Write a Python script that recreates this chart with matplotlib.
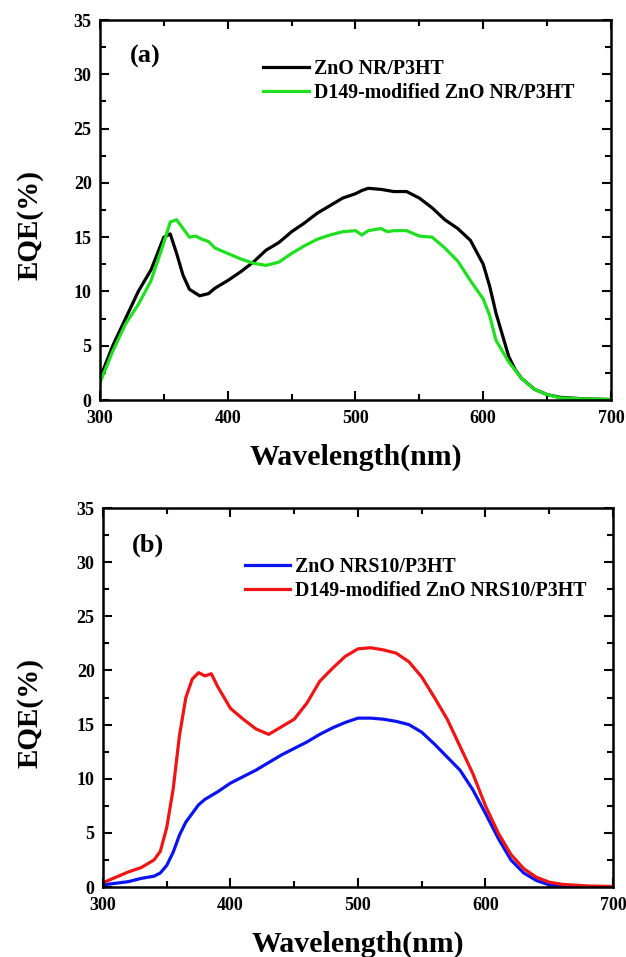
import numpy as np
import matplotlib
matplotlib.use("Agg")
import matplotlib.pyplot as plt
from matplotlib.ticker import MultipleLocator

plt.rcParams['font.family'] = ['Liberation Serif', 'DejaVu Serif']
plt.rcParams['font.weight'] = 'bold'

# panel (a)
wl_a = [300, 310, 320, 330, 340, 350, 355, 360, 365, 370, 378, 385, 390, 400, 410, 420, 430,
        440, 450, 460, 470, 480, 490, 500, 505, 510, 520, 530, 540, 550, 560, 570, 580, 590,
        600, 605, 610, 615, 620, 625, 630, 640, 650, 660, 680, 700]
eqe_nr = [2.0, 5.0, 7.5, 10.0, 12.0, 15.0, 15.3, 13.5, 11.5, 10.2, 9.6, 9.8, 10.3, 11.0, 11.8,
          12.7, 13.8, 14.5, 15.5, 16.3, 17.2, 17.9, 18.6, 19.0, 19.3, 19.5, 19.4, 19.2, 19.2,
          18.6, 17.7, 16.6, 15.8, 14.7, 12.5, 10.5, 8.0, 6.0, 4.0, 2.8, 2.0, 1.0, 0.5, 0.25,
          0.1, 0.05]
wl_a2 = [300, 310, 320, 330, 340, 350, 355, 360, 365, 370, 375, 380, 385, 390, 400, 410, 420,
         430, 440, 450, 460, 470, 480, 490, 500, 505, 510, 520, 525, 530, 540, 550, 560, 570,
         580, 590, 600, 605, 610, 620, 630, 640, 650, 660, 680, 700]
eqe_nr_d149 = [1.6, 4.5, 7.0, 8.8, 11.0, 14.5, 16.4, 16.6, 15.8, 15.0, 15.1, 14.8, 14.6, 14.0,
               13.5, 13.0, 12.6, 12.4, 12.7, 13.5, 14.2, 14.8, 15.2, 15.5, 15.6, 15.2, 15.6,
               15.8, 15.5, 15.6, 15.6, 15.1, 15.0, 14.0, 12.8, 11.0, 9.3, 7.8, 5.5, 3.5, 2.0,
               1.0, 0.5, 0.2, 0.1, 0.05]

# panel (b)
wl_b = [300, 320, 330, 340, 345, 350, 355, 360, 365, 370, 375, 380, 390, 400, 410, 420, 430,
        440, 450, 460, 470, 480, 490, 500, 510, 520, 530, 540, 550, 560, 570, 580, 590, 600,
        610, 620, 630, 640, 650, 660, 700]
eqe_nrs = [0.2, 0.5, 0.8, 1.0, 1.3, 2.0, 3.2, 4.8, 6.0, 6.8, 7.6, 8.1, 8.8, 9.6, 10.2, 10.8,
           11.5, 12.2, 12.8, 13.4, 14.1, 14.7, 15.2, 15.6, 15.6, 15.5, 15.3, 15.0, 14.3, 13.2,
           12.0, 10.8, 9.0, 6.8, 4.5, 2.5, 1.3, 0.6, 0.2, 0.05, 0.0]
wl_b2 = [300, 310, 320, 330, 340, 345, 350, 355, 360, 365, 370, 375, 380, 385, 390, 400, 410,
         420, 430, 440, 450, 460, 470, 480, 490, 500, 510, 520, 530, 540, 550, 560, 570, 580,
         590, 600, 610, 620, 630, 640, 650, 660, 680, 700]
eqe_nrs_d149 = [0.4, 0.9, 1.4, 1.8, 2.5, 3.3, 5.5, 9.0, 14.0, 17.5, 19.2, 19.8, 19.5, 19.7,
                18.5, 16.5, 15.5, 14.6, 14.1, 14.8, 15.5, 17.0, 19.0, 20.2, 21.3, 22.0, 22.1,
                21.9, 21.6, 20.8, 19.4, 17.5, 15.5, 13.0, 10.5, 7.5, 5.0, 3.0, 1.7, 0.9, 0.45,
                0.25, 0.1, 0.05]

fig = plt.figure(figsize=(6.26, 9.57), dpi=100)
ax1 = fig.add_axes([0.1597, 0.5820, 0.8163, 0.3971])
ax2 = fig.add_axes([0.1645, 0.0731, 0.8147, 0.3960])

panels = [
    (ax1, '(a)', (0.059, 0.903), (0.319, 0.897), -0.137,
     [(wl_a, eqe_nr, 'black', 'ZnO NR/P3HT'),
      (wl_a2, eqe_nr_d149, '#1ee01e', 'D149-modified ZnO NR/P3HT')]),
    (ax2, '(b)', (0.057, 0.902), (0.278, 0.870), -0.143,
     [(wl_b, eqe_nrs, '#0a14f0', 'ZnO NRS10/P3HT'),
      (wl_b2, eqe_nrs_d149, '#f01414', 'D149-modified ZnO NRS10/P3HT')]),
]

for ax, tag, tagpos, legpos, ylx, series in panels:
    for x, y, c, lab in series:
        ax.plot(x, y, color=c, lw=2.3, label=lab)
    ax.set_xlim(300, 700)
    ax.set_ylim(0, 35)
    ax.xaxis.set_major_locator(MultipleLocator(100))
    ax.xaxis.set_minor_locator(MultipleLocator(50))
    ax.yaxis.set_major_locator(MultipleLocator(5))
    ax.yaxis.set_minor_locator(MultipleLocator(2.5))
    ax.tick_params(which='both', direction='in', top=True, right=True, width=1.5,
                   labelsize=13)
    ax.tick_params(which='major', length=6.5)
    ax.tick_params(which='minor', length=4)
    ax.tick_params(axis='y', pad=6)
    ax.tick_params(axis='x', pad=7)
    for s in ax.spines.values():
        s.set_linewidth(1.8)
    for lbl in ax.get_xticklabels() + ax.get_yticklabels():
        lbl.set_fontweight('bold')
    ax.set_xlabel('Wavelength(nm)', fontsize=21.5, fontweight='bold', va='center')
    ax.xaxis.set_label_coords(0.5, -0.15)
    ax.set_ylabel('EQE(%)', fontsize=21, fontweight='bold', va='center')
    ax.yaxis.set_label_coords(ylx, 0.46)
    ax.text(tagpos[0], tagpos[1], tag, transform=ax.transAxes, fontsize=19,
            fontweight='bold', va='center')
    ax.legend(loc='upper left', bbox_to_anchor=legpos, frameon=False, borderpad=0,
              borderaxespad=0, prop={'size': 14.3, 'weight': 'bold'}, handlelength=2.3,
              handletextpad=0.25, labelspacing=0.2)

fig.savefig('out.png', dpi=100)
